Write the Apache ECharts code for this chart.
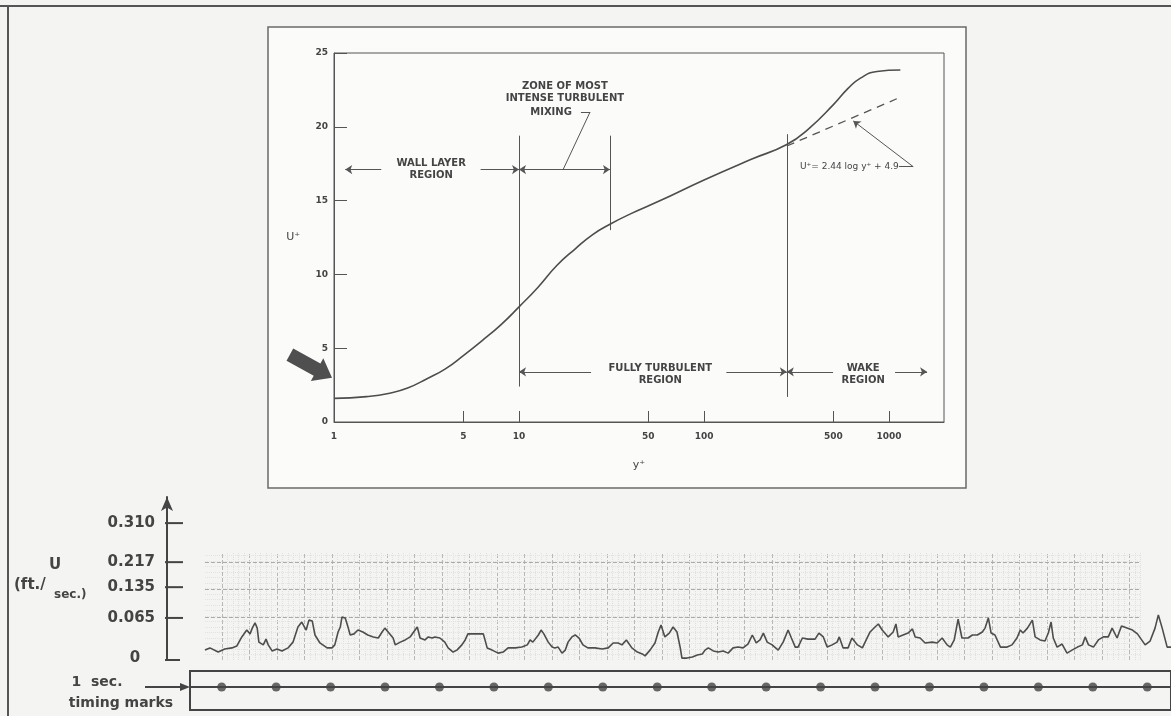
<!DOCTYPE html>
<html>
<head>
<meta charset="utf-8">
<script src="https://cdn.jsdelivr.net/npm/echarts@6/dist/echarts.min.js"></script>
<style>
html, body { margin: 0; padding: 0; background: #f4f4f2; }
#chart { width: 1171px; height: 716px; }
</style>
</head>
<body>
<div id="chart"></div>
<script>
// upper figure: U+ against y+
var profile = [[1, 1.6], [1.5, 1.72], [2, 1.95], [2.5, 2.3], [3.2, 2.95], [4, 3.6], [5, 4.5], [6.3, 5.5],
    [8, 6.6], [10, 7.8], [12.6, 9.1], [16, 10.6], [20, 11.7], [25, 12.7], [31, 13.4], [40, 14.1],
    [58, 15.0], [100, 16.4], [180, 17.8], [280, 18.8], [370, 19.9], [500, 21.5], [600, 22.6],
    [700, 23.3], [860, 23.75], [1150, 23.85]];
// dashed log law, U+ = 2.44 log y+ + 4.9
var logLaw = [[280, 18.7], [1100, 21.9]];
var xTickValues = [5, 10, 50, 100, 500, 1000];
var xLabelValues = [1, 5, 10, 50, 100, 500, 1000];

// lower figure: recorder trace, t in seconds, deflection in chart mm above zero
var uTickLabels = ['0', '0.065', '0.135', '0.217', '0.310'];
var uTickLevels = [0, 15.3, 26.5, 35.6, 49.8];
var trace = [
    [-0.31, 3.6], [-0.22, 4.4], [-0.07, 2.9], [0.05, 4.0], [0.18, 4.4], [0.27, 5.1], [0.36, 8.4], [0.45, 10.9],
    [0.51, 9.5], [0.55, 11.6], [0.60, 13.5], [0.64, 11.6], [0.67, 6.5], [0.75, 5.5], [0.80, 7.6], [0.84, 5.5],
    [0.91, 3.3], [1.00, 4.0], [1.09, 3.3], [1.20, 4.4], [1.29, 6.5], [1.38, 12.0], [1.45, 13.8], [1.53, 10.9],
    [1.58, 14.5], [1.64, 14.2], [1.69, 9.1], [1.78, 6.2], [1.91, 4.4], [2.00, 4.4], [2.05, 5.5], [2.11, 10.2],
    [2.15, 12.0], [2.18, 15.6], [2.24, 15.3], [2.29, 12.0], [2.33, 9.1], [2.40, 9.5], [2.47, 10.9], [2.56, 10.2],
    [2.65, 9.1], [2.75, 8.4], [2.84, 8.0], [2.91, 10.2], [2.96, 11.6], [3.02, 10.2], [3.11, 8.0],
    [3.15, 5.5], [3.24, 6.5], [3.33, 7.3], [3.42, 8.4], [3.47, 9.8], [3.55, 12.0], [3.60, 8.0], [3.69, 7.3],
    [3.75, 8.4], [3.82, 8.0], [3.87, 8.4], [3.96, 8.0], [4.05, 6.5], [4.11, 4.4], [4.20, 2.9], [4.27, 3.6],
    [4.36, 5.5], [4.42, 7.3], [4.47, 9.5], [4.60, 9.5], [4.75, 9.5], [4.82, 4.4], [4.91, 3.6], [5.02, 2.5],
    [5.11, 2.9], [5.20, 4.4], [5.33, 4.4], [5.45, 4.7], [5.55, 5.5], [5.60, 7.3], [5.65, 6.5], [5.75, 9.1],
    [5.80, 10.9], [5.85, 9.5], [5.93, 6.5], [6.00, 4.7], [6.05, 4.4], [6.11, 4.7], [6.18, 2.5], [6.24, 3.6],
    [6.29, 6.5], [6.36, 8.4], [6.42, 9.1], [6.49, 8.0], [6.56, 5.5], [6.65, 4.4],
    [6.78, 4.4], [6.91, 4.0], [7.02, 4.4], [7.11, 6.2], [7.20, 6.2], [7.27, 5.5], [7.35, 7.3], [7.38, 7.3],
    [7.45, 4.4], [7.55, 2.9], [7.64, 2.2], [7.69, 1.5], [7.78, 3.6], [7.87, 6.2], [7.93, 10.2], [7.98, 12.7],
    [8.05, 8.4], [8.13, 9.8], [8.20, 12.0], [8.27, 10.2], [8.33, 4.4], [8.36, 0.7], [8.45, 0.7], [8.55, 1.1],
    [8.64, 1.8], [8.73, 2.2], [8.78, 3.6], [8.84, 4.4], [8.93, 3.3], [9.02, 2.9], [9.11, 3.3], [9.20, 2.5],
    [9.29, 4.4], [9.38, 4.7], [9.47, 4.4], [9.56, 5.8], [9.64, 9.1], [9.71, 6.2], [9.78, 7.3], [9.84, 9.8],
    [9.91, 6.5], [10.00, 5.5], [10.11, 3.6], [10.20, 6.5], [10.29, 10.9], [10.35, 8.0],
    [10.42, 4.7], [10.47, 4.7], [10.55, 8.0], [10.65, 7.6], [10.78, 7.6], [10.85, 9.8], [10.93, 8.4], [11.00, 4.7],
    [11.09, 5.5], [11.18, 6.5], [11.22, 8.4], [11.29, 4.4], [11.38, 4.4], [11.45, 8.0], [11.55, 5.5], [11.64, 4.4],
    [11.69, 6.5], [11.78, 10.2], [11.87, 12.0], [11.93, 13.1], [12.00, 10.9], [12.11, 8.4], [12.20, 10.2], [12.25, 13.1],
    [12.29, 8.4], [12.38, 9.1], [12.47, 9.8], [12.55, 11.3], [12.60, 8.4], [12.69, 8.0], [12.78, 6.2], [12.91, 6.5],
    [13.00, 6.2], [13.09, 8.0], [13.18, 5.5], [13.24, 4.7], [13.31, 7.3], [13.38, 14.9], [13.45, 8.0], [13.56, 8.0],
    [13.64, 9.1], [13.73, 9.1], [13.82, 10.2], [13.87, 11.6], [13.93, 15.3], [13.98, 9.8],
    [14.05, 9.1], [14.15, 4.7], [14.27, 4.7], [14.36, 5.5], [14.45, 8.0], [14.51, 10.9], [14.56, 9.8], [14.64, 11.6],
    [14.73, 14.5], [14.78, 8.4], [14.87, 7.3], [14.96, 6.9], [15.02, 9.8], [15.07, 13.8], [15.11, 8.0], [15.18, 4.7],
    [15.27, 5.8], [15.36, 2.5], [15.45, 3.6], [15.55, 4.7], [15.64, 5.5], [15.69, 8.4], [15.75, 5.5], [15.84, 4.7],
    [15.93, 7.3], [16.02, 8.4], [16.11, 8.4], [16.18, 11.6], [16.27, 8.0], [16.35, 12.4], [16.45, 11.6], [16.55, 10.9],
    [16.64, 9.5], [16.78, 5.5], [16.87, 6.9], [16.96, 11.6], [17.02, 16.4], [17.09, 11.6], [17.18, 4.7], [17.25, 4.7]
];
var timingMarks = [0, 1, 2, 3, 4, 5, 6, 7, 8, 9, 10, 11, 12, 13, 14, 15, 16, 17];

var smallFont = { fontFamily: 'DejaVu Sans', fontSize: 9, fontWeight: 'bold', color: '#444' };
var noteFont = { fontFamily: 'DejaVu Sans', fontSize: 10, fontWeight: 'bold', color: '#444' };

// recorder paper grid (just background lines)
var paperLines = [];
for (var t = 0; t <= 16.5; t += 0.5) {
    paperLines.push([{ coord: [t, 0], lineStyle: { color: '#b8b8b8', type: 'dashed', width: 1 } },
                     { coord: [t, 39.3] }]);
}
for (var m = 0.1; m < 16.7; m += 0.1) {
    if (Math.abs(m * 2 - Math.round(m * 2)) < 0.01) continue;
    paperLines.push([{ coord: [m, 0], lineStyle: { color: '#e0e0de', type: 'dotted', width: 1 } },
                     { coord: [m, 39.3] }]);
}
[15.6, 25.8, 35.6].forEach(function (v) {
    paperLines.push([{ coord: [-0.31, v], lineStyle: { color: '#aaaaaa', type: 'dashed', width: 1 } },
                     { coord: [16.7, v] }]);
});
for (var h = 2; h < 39.3; h += 2) {
    paperLines.push([{ coord: [-0.31, h], lineStyle: { color: '#e2e2e0', type: 'dotted', width: 1 } },
                     { coord: [16.7, h] }]);
}

var chart = echarts.init(document.getElementById('chart'));

var option = {
    animation: false,
    backgroundColor: '#f4f4f2',
    grid: [
        { left: 334, top: 53, width: 610, height: 369, show: true, borderColor: '#555', borderWidth: 1, backgroundColor: 'transparent' },
        { left: 167, top: 497, width: 1004, height: 163 },
        { left: 190, top: 671, width: 991, height: 39, show: true, borderColor: '#444', borderWidth: 2 }
    ],
    xAxis: [
        {
            gridIndex: 0, type: 'log', logBase: 10, min: 1, max: 1980,
            name: 'y\u207A', nameLocation: 'middle', nameGap: 38,
            nameTextStyle: { fontFamily: 'DejaVu Sans', fontSize: 11, color: '#444' },
            axisLine: { lineStyle: { color: '#555', width: 1 } },
            axisTick: { inside: true, length: 11, customValues: xTickValues, lineStyle: { color: '#555' } },
            axisLabel: Object.assign({ customValues: xLabelValues, margin: 10,
                formatter: function (v) { return String(Math.round(v)); } }, smallFont),
            minorTick: { show: false }, splitLine: { show: false }
        },
        {
            gridIndex: 1, type: 'value', min: -1, max: 17.25, show: false
        },
        {
            gridIndex: 2, type: 'value', min: -0.582, max: 17.436, show: false
        }
    ],
    yAxis: [
        {
            gridIndex: 0, type: 'value', min: 0, max: 25, interval: 5,
            name: 'U\u207A', nameLocation: 'middle', nameGap: 34, nameRotate: 0,
            nameTextStyle: { fontFamily: 'DejaVu Sans', fontSize: 11, color: '#444' },
            axisLine: { show: true, lineStyle: { color: '#555', width: 1 } },
            axisTick: { show: true, inside: true, length: 13, lineStyle: { color: '#555' } },
            axisLabel: Object.assign({ margin: 6 }, smallFont),
            splitLine: { show: false }
        },
        {
            gridIndex: 1, type: 'value', min: 0, max: 59.3,
            axisLine: { show: true, onZero: false, symbol: ['none', 'arrow'], symbolSize: [9, 14], lineStyle: { color: '#444', width: 2 } },
            axisTick: { show: false }, axisLabel: { show: false }, splitLine: { show: false }
        },
        {
            gridIndex: 2, type: 'value', min: 0, max: 1, show: false
        }
    ],
    series: [
        {
            name: 'profile', type: 'line', xAxisIndex: 0, yAxisIndex: 0,
            data: profile, smooth: 0.5, showSymbol: false, z: 5,
            lineStyle: { color: '#4d4d4d', width: 1.6 }, itemStyle: { color: '#555' },
            markLine: {
                silent: true, symbol: ['none', 'none'], symbolSize: 7,
                lineStyle: { color: '#555', width: 1, type: 'solid' },
                label: { show: false },
                data: [
                    [{ coord: [10, 2.4] }, { coord: [10, 19.4] }],
                    [{ coord: [31, 13.0] }, { coord: [31, 19.4] }],
                    [{ coord: [280, 1.7] }, { coord: [280, 19.5] }],
                    [{ coord: [1.15, 17.1], symbol: 'arrow' }, { coord: [1.8, 17.1] }],
                    [{ coord: [6.2, 17.1] }, { coord: [10, 17.1], symbol: 'arrow' }],
                    [{ coord: [10, 17.1], symbol: 'arrow' }, { coord: [31, 17.1], symbol: 'arrow' }],
                    [{ coord: [17.3, 17.1] }, { coord: [24.2, 21.0] }],
                    [{ coord: [24.2, 21.0] }, { coord: [21.6, 21.0] }],
                    [{ coord: [10, 3.4], symbol: 'arrow' }, { coord: [24.5, 3.4] }],
                    [{ coord: [132, 3.4] }, { coord: [280, 3.4], symbol: 'arrow' }],
                    [{ coord: [280, 3.4], symbol: 'arrow' }, { coord: [498, 3.4] }],
                    [{ coord: [1077, 3.4] }, { coord: [1604, 3.4], symbol: 'arrow' }],
                    [{ coord: [1130, 17.3] }, { coord: [1349, 17.3] }],
                    [{ coord: [1349, 17.3] }, { coord: [640, 20.4], symbol: 'arrow' }]
                ]
            },
            markPoint: {
                silent: true, symbol: 'circle', symbolSize: 1,
                itemStyle: { color: 'rgba(0,0,0,0)' },
                label: Object.assign({ show: true, position: 'inside', formatter: '{b}', lineHeight: 12, align: 'center' }, noteFont),
                data: [
                    { name: 'WALL LAYER\nREGION', coord: [3.35, 17.1] },
                    { name: 'ZONE OF MOST\nINTENSE TURBULENT', coord: [17.7, 22.3] },
                    { name: 'MIXING', coord: [14.9, 21.0] },
                    { name: 'FULLY TURBULENT\nREGION', coord: [58, 3.25] },
                    { name: 'WAKE\nREGION', coord: [724, 3.25] },
                    { name: 'U\u207A= 2.44 log y\u207A + 4.9', coord: [610, 17.3],
                      label: { fontWeight: 'normal', fontSize: 9 } }
                ]
            }
        },
        {
            name: 'log law', type: 'line', xAxisIndex: 0, yAxisIndex: 0,
            data: logLaw, showSymbol: false, z: 4,
            lineStyle: { color: '#555', width: 1.3, type: [8, 6] }
        },
        {
            name: 'paper', type: 'line', xAxisIndex: 1, yAxisIndex: 1, data: [], z: 1,
            markLine: { silent: true, symbol: ['none', 'none'], label: { show: false }, data: paperLines }
        },
        {
            name: 'U trace', type: 'line', xAxisIndex: 1, yAxisIndex: 1,
            data: trace, showSymbol: false, z: 5,
            lineStyle: { color: '#4d4d4d', width: 1.6 }
        },
        {
            name: 'U ticks', type: 'custom', xAxisIndex: 1, yAxisIndex: 1, clip: false, z: 6,
            data: uTickLevels.map(function (v, i) { return [-1, v, i]; }),
            renderItem: function (params, api) {
                var p = api.coord([api.value(0), api.value(1)]);
                var i = api.value(2);
                return {
                    type: 'group',
                    children: [
                        { type: 'line', shape: { x1: p[0] - 2, y1: p[1], x2: p[0] + (i === 0 ? 13 : 16), y2: p[1] },
                          style: { stroke: '#444', lineWidth: 2 } },
                        { type: 'text', x: i === 0 ? p[0] - 32 : p[0] - 12, y: p[1] + (i === 0 ? -2 : 0),
                          style: { text: uTickLabels[i], align: i === 0 ? 'center' : 'right', verticalAlign: 'middle',
                                   font: 'bold 15px "DejaVu Sans"', fill: '#444' } }
                    ]
                };
            }
        },
        {
            name: 'timing', type: 'scatter', xAxisIndex: 2, yAxisIndex: 2,
            data: timingMarks.map(function (s) { return [s, 0.59]; }),
            symbolSize: 9, itemStyle: { color: '#444' }, z: 5,
            markLine: {
                silent: true, symbol: ['none', 'none'], label: { show: false },
                lineStyle: { color: '#444', width: 2, type: 'solid' },
                data: [{ yAxis: 0.59 }]
            }
        }
    ],
    graphic: [
        { type: 'rect', z: -10, shape: { x: 268, y: 27, width: 698, height: 461 },
          style: { fill: '#fbfbfa', stroke: '#6a6a6a', lineWidth: 1.5 } },
        { type: 'line', shape: { x1: 0, y1: 6, x2: 1171, y2: 6 }, style: { stroke: '#555', lineWidth: 2 } },
        { type: 'line', shape: { x1: 8, y1: 6, x2: 8, y2: 716 }, style: { stroke: '#555', lineWidth: 2 } },
        { type: 'text', x: 55, y: 565, style: { text: 'U', font: 'bold 15px "DejaVu Sans"', fill: '#444', align: 'center', verticalAlign: 'middle' } },
        { type: 'text', x: 14, y: 585, style: { text: '(ft./', font: 'bold 15px "DejaVu Sans"', fill: '#444', align: 'left', verticalAlign: 'middle' } },
        { type: 'text', x: 54, y: 595, style: { text: 'sec.)', font: 'bold 12px "DejaVu Sans"', fill: '#444', align: 'left', verticalAlign: 'middle' } },
        { type: 'text', x: 97, y: 682, style: { text: '1  sec.', font: 'bold 14px "DejaVu Sans"', fill: '#444', align: 'center', verticalAlign: 'middle' } },
        { type: 'text', x: 121, y: 703, style: { text: 'timing marks', font: 'bold 14px "DejaVu Sans"', fill: '#444', align: 'center', verticalAlign: 'middle' } },
        { type: 'line', shape: { x1: 145, y1: 687, x2: 182, y2: 687 }, style: { stroke: '#444', lineWidth: 2 } },
        { type: 'polygon', shape: { points: [[190, 687], [180, 683], [180, 691]] }, style: { fill: '#444' } }
    ]
};

chart.setOption(option);

// big pointer arrow aimed at the start of the curve
var tip = chart.convertToPixel({ xAxisIndex: 0, yAxisIndex: 0 }, [1, 3.0]);
chart.setOption({
    graphic: option.graphic.concat([{
        type: 'polygon', x: tip[0] - 2, y: tip[1], rotation: -0.5, z: 100,
        shape: { points: [[0, 0], [-17, -13], [-17, -7], [-48, -7], [-48, 7], [-17, 7], [-17, 13]] },
        style: { fill: '#4f4f4f' }
    }])
});
</script>
</body>
</html>
